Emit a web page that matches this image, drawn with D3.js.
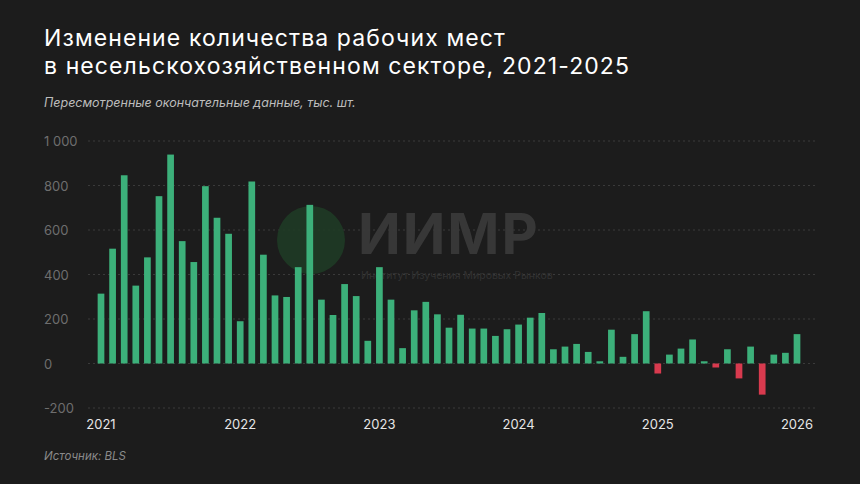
<!DOCTYPE html>
<html><head><meta charset="utf-8">
<script src="https://cdn.jsdelivr.net/npm/d3@7"></script>
<style>
body{margin:0;background:#1c1c1c;font-family:Inter,"Noto Sans",sans-serif}
</style></head><body>
<svg id="c" width="860" height="484"></svg>
<script>
// monthly change, thousands, Jan 2021 .. Jan 2026
const values2021 = [314,516,846,350,477,752,939,550,456,797,655,583];
const values2022 = [190,818,489,306,299,433,713,287,218,357,303,102];
const values2023 = [433,287,69,239,277,221,161,219,157,157,124,154];
const values2024 = [175,206,227,64,76,88,52,10,152,30,132,235];
const values2025 = [-45,40,67,108,10,-18,64,-67,76,-140,40,48,132];
const yearLabels = ['2021','2022','2023','2024','2025','2026'];
const yTicks = [-200,0,200,400,600,800,1000];

const data = [...values2021,...values2022,...values2023,...values2024,...values2025];

const svg = d3.select('#c');
svg.append('rect').attr('width',860).attr('height',484).attr('fill','#1c1c1c');

const x = d3.scaleLinear().domain([0,60]).range([101,797]);
const y = d3.scaleLinear().domain([-200,1000]).range([408,141]);

// titles
svg.append('text').attr('x',44).attr('y',46).attr('fill','#fff').attr('font-size',23)
  .attr('letter-spacing',1.1).text('Изменение количества рабочих мест');
svg.append('text').attr('x',44).attr('y',74).attr('fill','#fff').attr('font-size',23)
  .attr('letter-spacing',1.1).text('в несельскохозяйственном секторе, 2021-2025');
svg.append('text').attr('x',44).attr('y',107).attr('fill','#bdbdbd').attr('font-size',12.5)
  .attr('font-style','italic').text('Пересмотренные окончательные данные, тыс. шт.');

// grid
yTicks.forEach(t=>{
  svg.append('line').attr('x1',88).attr('x2',815).attr('y1',y(t)).attr('y2',y(t))
    .attr('stroke','#3a3a3a').attr('stroke-dasharray','2,3');
  svg.append('text').attr('x',44).attr('y',y(t)+5).attr('fill','#6e6e6e').attr('font-size',13)
    .text(t===1000?'1 000':t);
});

// watermark
const wm = svg.append('g').attr('opacity',0.9);
wm.append('circle').attr('cx',311).attr('cy',240).attr('r',34).attr('fill','#1f3b25');
wm.append('text').attr('x',358).attr('y',254).attr('fill','#3a3a3a').attr('font-size',56)
  .attr('font-weight',700).attr('letter-spacing',2).text('ИИМР');
wm.append('text').attr('x',361).attr('y',279).attr('fill','#353535').attr('font-size',10.5)
  .text('Институт Изучения Мировых Рынков');

// bars
const bw = 6.7;
svg.selectAll('rect.bar').data(data).join('rect').attr('class','bar')
  .attr('x',(d,i)=>x(i)-bw/2).attr('width',bw)
  .attr('y',d=>y(Math.max(0,d))).attr('height',d=>Math.abs(y(d)-y(0)))
  .attr('fill',d=>d<0?'#d83a4e':'#3cb07a');

// x labels
yearLabels.forEach((l,i)=>{
  svg.append('text').attr('x',x(i*12)).attr('y',429).attr('text-anchor','middle')
    .attr('fill','#e6e6e6').attr('font-size',13).text(l);
});

svg.append('text').attr('x',44).attr('y',460).attr('fill','#8a8a8a').attr('font-size',11.5)
  .attr('font-style','italic').text('Источник: BLS');
</script>
</body></html>
